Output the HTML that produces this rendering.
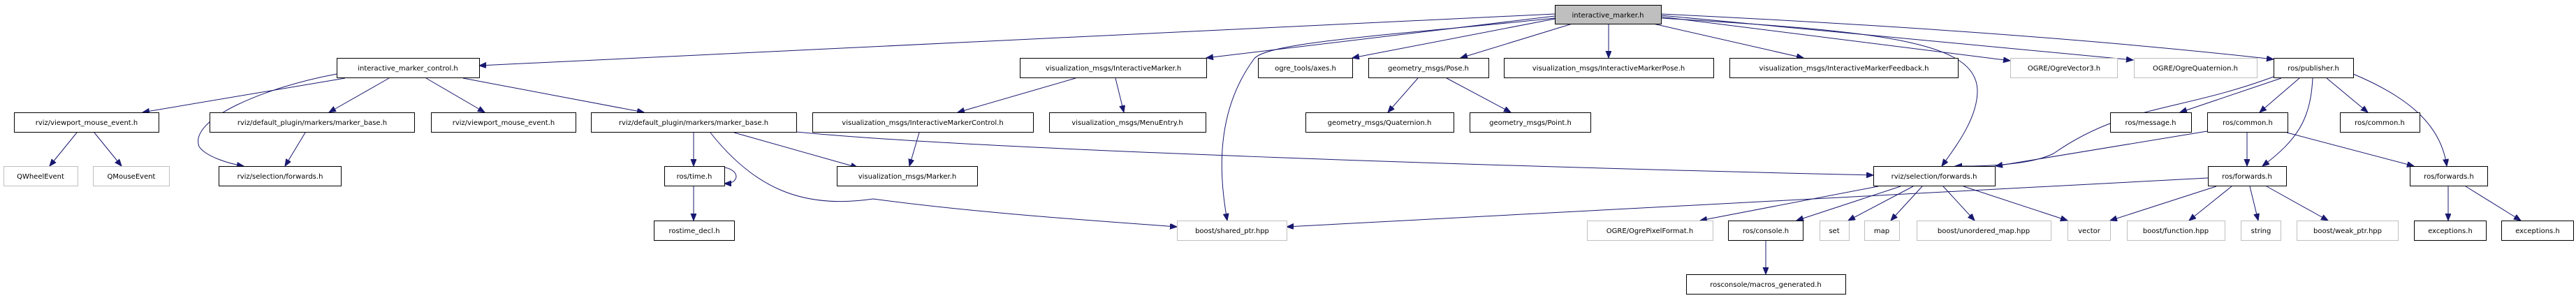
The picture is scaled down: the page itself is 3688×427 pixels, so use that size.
<!DOCTYPE html>
<html><head><meta charset="utf-8"><style>
html,body{margin:0;padding:0;background:#fff;}
svg{display:block;}
text{font-family:"DejaVu Sans","Liberation Sans",sans-serif;font-size:10px;fill:#000;text-anchor:middle;}
.n{fill:#fff;stroke:#000;stroke-width:1;}
.g{fill:#fff;stroke:#bfbfbf;stroke-width:1;}
.e{fill:none;stroke:#191970;stroke-width:1;marker-end:url(#a);}
</style></head><body>
<svg width="3688" height="427" viewBox="0 0 3688 427" xmlns="http://www.w3.org/2000/svg">
<defs><marker id="a" markerUnits="userSpaceOnUse" markerWidth="12" markerHeight="10" refX="10" refY="4" orient="auto"><path d="M0,0 L10,4 L0,8 z" fill="#191970" stroke="#191970"/></marker></defs>

<!-- edges -->
<path class="e" d="M2226,20 L686,94"/>
<path class="e" d="M2226,23 L1727,83"/>
<path class="e" d="M2226,27 L1936,83"/>
<path class="e" d="M2251,34 L2091,83"/>
<path class="e" d="M2303,34 L2303,83"/>
<path class="e" d="M2367,34 L2582,83"/>
<path class="e" d="M2378,24 L2878,87"/>
<path class="e" d="M2378,22 L3054,86"/>
<path class="e" d="M2378,20 Q2900,45 3255,85"/>
<path class="e" d="M2378,26 C2700,45 2830,60 2831,130 C2831,170 2800,210 2780,238"/>
<path class="e" d="M2226,26 C2000,50 1810,60 1795,85 C1740,160 1745,250 1757,316"/>

<path class="e" d="M494,112 L204,161"/>
<path class="e" d="M557,112 L471,161"/>
<path class="e" d="M610,112 L694,161"/>
<path class="e" d="M663,112 L922,161"/>
<path class="e" d="M482,106 C380,125 270,170 285,210 C295,225 330,235 349,238"/>

<path class="e" d="M110,190 L71,238"/>
<path class="e" d="M135,190 L174,238"/>
<path class="e" d="M437,190 L408,238"/>
<path class="e" d="M993,190 L993,238"/>
<path class="e" d="M1051,190 L1228,240"/>
<path class="e" d="M1017,190 C1080,270 1150,300 1250,285 C1400,305 1550,315 1685,325"/>
<path class="e" d="M1140,189 C1400,215 2200,240 2682,251"/>
<path class="e" d="M1022,240 C1045,236 1062,250 1050,260 C1046,263 1042,263 1037,263"/>
<path class="e" d="M993,267 L993,316"/>

<path class="e" d="M1540,112 L1371,161"/>
<path class="e" d="M1597,112 L1609,161"/>
<path class="e" d="M1316,190 L1302,238"/>
<path class="e" d="M2030,112 L1987,161"/>
<path class="e" d="M2071,112 L2163,161"/>

<path class="e" d="M3255,110 C3120,160 3040,150 2940,220 C2900,240 2810,238 2799,238"/>
<path class="e" d="M3266,112 L3121,161"/>
<path class="e" d="M3292,112 L3235,161"/>
<path class="e" d="M3311,112 C3308,170 3290,200 3239,238"/>
<path class="e" d="M3331,112 L3390,161"/>
<path class="e" d="M3369,106 C3450,140 3495,180 3503,238"/>
<path class="e" d="M3160,188 L2857,238"/>
<path class="e" d="M3217,190 L3217,238"/>
<path class="e" d="M3274,190 L3456,238"/>

<path class="e" d="M2689,267 L2434,316"/>
<path class="e" d="M2721,267 L2572,316"/>
<path class="e" d="M2739,267 L2646,316"/>
<path class="e" d="M2752,267 L2707,316"/>
<path class="e" d="M2782,267 L2827,316"/>
<path class="e" d="M2811,267 L2960,316"/>
<path class="e" d="M3161,255 L1842,325"/>
<path class="e" d="M3173,267 L3021,316"/>
<path class="e" d="M3195,267 L3134,316"/>
<path class="e" d="M3221,267 L3233,316"/>
<path class="e" d="M3245,267 L3333,316"/>
<path class="e" d="M3505,267 L3505,316"/>
<path class="e" d="M3530,267 L3609,316"/>
<path class="e" d="M2528,344 L2528,393"/>

<!-- nodes -->
<rect x="2226.5" y="7.5" width="152" height="27" fill="#bfbfbf" stroke="#000"/><text x="2302" y="25">interactive_marker.h</text>

<rect class="n" x="482.5" y="83.5" width="204" height="28"/><text x="584" y="101">interactive_marker_control.h</text>
<rect class="n" x="1460.5" y="83.5" width="267" height="28"/><text x="1594" y="101">visualization_msgs/InteractiveMarker.h</text>
<rect class="n" x="1801.5" y="83.5" width="135" height="28"/><text x="1869" y="101">ogre_tools/axes.h</text>
<rect class="n" x="1959.5" y="83.5" width="172" height="28"/><text x="2045" y="101">geometry_msgs/Pose.h</text>
<rect class="n" x="2153.5" y="83.5" width="300" height="28"/><text x="2303" y="101">visualization_msgs/InteractiveMarkerPose.h</text>
<rect class="n" x="2476.5" y="83.5" width="327" height="28"/><text x="2640" y="101">visualization_msgs/InteractiveMarkerFeedback.h</text>
<rect class="g" x="2878.5" y="83.5" width="153" height="28"/><text x="2955" y="101">OGRE/OgreVector3.h</text>
<rect class="g" x="3055.5" y="83.5" width="176" height="28"/><text x="3143" y="101">OGRE/OgreQuaternion.h</text>
<rect class="n" x="3255.5" y="83.5" width="114" height="28"/><text x="3312" y="101">ros/publisher.h</text>

<rect class="n" x="20.5" y="161.5" width="207" height="28"/><text x="124" y="179">rviz/viewport_mouse_event.h</text>
<rect class="n" x="300.5" y="161.5" width="293" height="28"/><text x="447" y="179">rviz/default_plugin/markers/marker_base.h</text>
<rect class="n" x="617.5" y="161.5" width="207" height="28"/><text x="721" y="179">rviz/viewport_mouse_event.h</text>
<rect class="n" x="846.5" y="161.5" width="294" height="28"/><text x="993" y="179">rviz/default_plugin/markers/marker_base.h</text>
<rect class="n" x="1163.5" y="161.5" width="316" height="28"/><text x="1321" y="179">visualization_msgs/InteractiveMarkerControl.h</text>
<rect class="n" x="1502.5" y="161.5" width="224" height="28"/><text x="1614" y="179">visualization_msgs/MenuEntry.h</text>
<rect class="n" x="1869.5" y="161.5" width="212" height="28"/><text x="1975" y="179">geometry_msgs/Quaternion.h</text>
<rect class="n" x="2104.5" y="161.5" width="173" height="28"/><text x="2191" y="179">geometry_msgs/Point.h</text>
<rect class="n" x="3021.5" y="161.5" width="116" height="28"/><text x="3079" y="179">ros/message.h</text>
<rect class="n" x="3160.5" y="161.5" width="115" height="28"/><text x="3218" y="179">ros/common.h</text>
<rect class="n" x="3350.5" y="161.5" width="114" height="28"/><text x="3407" y="179">ros/common.h</text>

<rect class="g" x="5.5" y="238.5" width="106" height="28"/><text x="58" y="256">QWheelEvent</text>
<rect class="g" x="133.5" y="238.5" width="109" height="28"/><text x="188" y="256">QMouseEvent</text>
<rect class="n" x="313.5" y="238.5" width="175" height="28"/><text x="401" y="256">rviz/selection/forwards.h</text>
<rect class="n" x="951.5" y="238.5" width="86" height="28"/><text x="994" y="256">ros/time.h</text>
<rect class="n" x="1198.5" y="238.5" width="201" height="28"/><text x="1299" y="256">visualization_msgs/Marker.h</text>
<rect class="n" x="2682.5" y="238.5" width="174" height="28"/><text x="2769" y="256">rviz/selection/forwards.h</text>
<rect class="n" x="3161.5" y="238.5" width="112" height="28"/><text x="3217" y="256">ros/forwards.h</text>
<rect class="n" x="3450.5" y="238.5" width="111" height="28"/><text x="3506" y="256">ros/forwards.h</text>

<rect class="n" x="936.5" y="316.5" width="115" height="28"/><text x="994" y="334">rostime_decl.h</text>
<rect class="g" x="1685.5" y="316.5" width="157" height="28"/><text x="1764" y="334">boost/shared_ptr.hpp</text>
<rect class="g" x="2272.5" y="316.5" width="180" height="28"/><text x="2362" y="334">OGRE/OgrePixelFormat.h</text>
<rect class="n" x="2474.5" y="316.5" width="107" height="28"/><text x="2528" y="334">ros/console.h</text>
<rect class="g" x="2605.5" y="316.5" width="42" height="28"/><text x="2626" y="334">set</text>
<rect class="g" x="2669.5" y="316.5" width="50" height="28"/><text x="2694" y="334">map</text>
<rect class="g" x="2744.5" y="316.5" width="192" height="28"/><text x="2840" y="334">boost/unordered_map.hpp</text>
<rect class="g" x="2960.5" y="316.5" width="61" height="28"/><text x="2991" y="334">vector</text>
<rect class="g" x="3045.5" y="316.5" width="140" height="28"/><text x="3115" y="334">boost/function.hpp</text>
<rect class="g" x="3208.5" y="316.5" width="57" height="28"/><text x="3237" y="334">string</text>
<rect class="g" x="3288.5" y="316.5" width="145" height="28"/><text x="3361" y="334">boost/weak_ptr.hpp</text>
<rect class="n" x="3456.5" y="316.5" width="103" height="28"/><text x="3508" y="334">exceptions.h</text>
<rect class="n" x="3581.5" y="316.5" width="103" height="28"/><text x="3633" y="334">exceptions.h</text>

<rect class="n" x="2414.5" y="393.5" width="228" height="28"/><text x="2528" y="411">rosconsole/macros_generated.h</text>
</svg>
</body></html>
